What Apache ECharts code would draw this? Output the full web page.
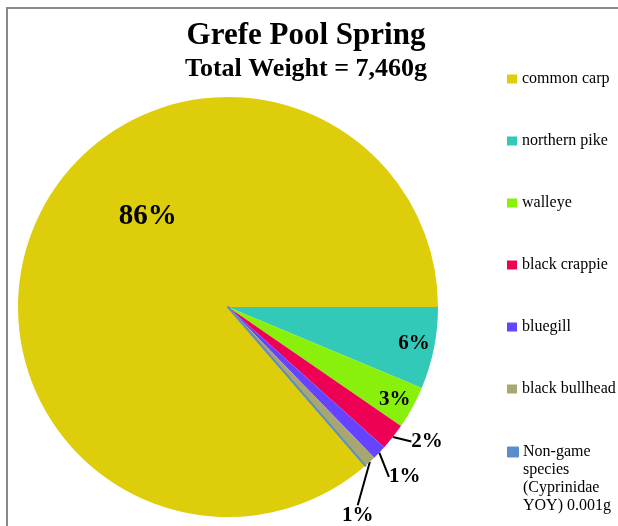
<!DOCTYPE html>
<html><head><meta charset="utf-8">
<script src="https://cdn.jsdelivr.net/npm/echarts@6/dist/echarts.min.js"></script>
<style>html,body{margin:0;padding:0;background:#fff}#c{width:618px;height:526px}</style>
</head><body><div id="c"></div>
<script>
const titleText = 'Grefe Pool Spring';
const subtitleText = 'Total Weight = 7,460g';
const categories = ['common carp', 'northern pike', 'walleye', 'black crappie', 'bluegill', 'black bullhead', 'Non-game\nspecies\n(Cyprinidae\nYOY) 0.001g'];
const weights = [6442, 470, 246, 153, 82, 67, 0.001];
const colors = ['#DDCD0B', '#33C9B8', '#88F00A', '#EE0055', '#6644FF', '#A8A772', '#5B8DCB'];
const labelPlacement = ['inside', 'inside', 'inside', 'outside', 'outside', 'outside', 'none'];
const labelShift = [[18, -46], [80, 15], [72, 41], [4, -3], [-4, 16], [-41, 45], [0, 0]];

const serif = "'Liberation Serif', 'Times New Roman', serif";
const total = weights.reduce((a, b) => a + b, 0);

const data = categories.map((name, i) => ({
  name: name,
  value: weights[i],
  itemStyle: i === 6 ? { color: colors[i], borderColor: colors[i], borderWidth: 2 } : { color: colors[i], borderWidth: 0 },
  label: labelPlacement[i] === 'none' ? { show: false } : {
    show: true,
    position: labelPlacement[i],
    fontSize: i === 0 ? 29 : 21
  },
  labelLine: { show: labelPlacement[i] === 'outside' }
}));

const legendText = { fontFamily: serif, fontSize: 16, color: '#000', lineHeight: 18 };

const chart = echarts.init(document.getElementById('c'), null, { renderer: 'canvas' });
chart.setOption({
  animation: false,
  backgroundColor: '#fff',
  graphic: [{
    type: 'rect', silent: true,
    shape: { x: 7, y: 8, width: 700, height: 600 },
    style: { fill: 'none', stroke: '#8a8a8a', lineWidth: 2 }
  }],
  title: {
    text: titleText,
    subtext: subtitleText,
    left: 301, textAlign: 'center',
    top: 15,
    itemGap: 5,
    textStyle: { fontFamily: serif, fontWeight: 'bold', fontSize: 31, color: '#000' },
    subtextStyle: { fontFamily: serif, fontWeight: 'bold', fontSize: 26, color: '#000' }
  },
  legend: [{
    orient: 'vertical',
    left: 507, top: 70, padding: 0,
    itemWidth: 10, itemHeight: 9, itemGap: 44, itemTextGap: 0,
    icon: 'rect',
    selectedMode: false,
    data: categories.slice(0, 6),
    textStyle: legendText
  }, {
    orient: 'vertical',
    left: 507, top: 389, padding: 0,
    itemWidth: 10, itemHeight: 9, itemTextGap: 0,
    icon: 'rect',
    selectedMode: false,
    data: categories.slice(6),
    formatter: name => '\n\n\n' + name,
    textStyle: legendText
  }],
  series: [{
    type: 'pie',
    center: [228, 307],
    radius: 210,
    startAngle: 360 * weights[0] / total,
    clockwise: true,
    avoidLabelOverlap: false,
    data: data,
    label: {
      fontFamily: serif, fontWeight: 'bold', color: '#000',
      formatter: p => Math.round(p.percent) + '%'
    },
    labelLine: { length: 12, length2: 0, lineStyle: { color: '#000', width: 2 } },
    labelLayout: p => {
      const s = labelShift[p.dataIndex];
      if (labelPlacement[p.dataIndex] === 'outside') {
        return {
          x: p.labelRect.x + p.labelRect.width / 2 + s[0],
          y: p.labelRect.y + p.labelRect.height / 2 + s[1],
          align: 'center', verticalAlign: 'middle'
        };
      }
      return { dx: s[0], dy: s[1] };
    },
    emphasis: { disabled: true }
  }]
});
</script></body></html>
